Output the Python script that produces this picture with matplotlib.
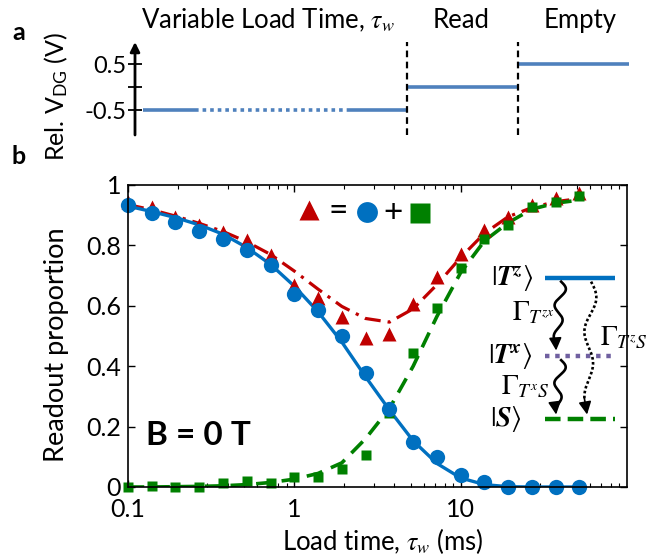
import numpy as np
import matplotlib
matplotlib.use('Agg')
from matplotlib import pyplot as plt

plt.rcParams['font.family'] = ['Lato', 'DejaVu Sans']
plt.rcParams['mathtext.fontset'] = 'stix'

# ---- panel a : pulse sequence on the gate (schematic time axis 0..1)
phase_names = ['Variable Load Time, $\\tau_w$', 'Read', 'Empty']
phase_levels = [-0.5, 0.0, 0.5]
phase_edges = [0.016, 0.544, 0.766, 0.988]
load_dotted = [0.12, 0.428]        # dotted (variable) part of the load stage

# ---- panel b : readout proportions vs load time (ms)
load_time = [0.1, 0.139, 0.193, 0.268, 0.373, 0.518, 0.72, 1.0, 1.39, 1.93,
             2.68, 3.73, 5.18, 7.2, 10.0, 13.9, 19.3, 26.8, 37.3, 51.8]
p_circle = [0.934, 0.907, 0.877, 0.848, 0.821, 0.785, 0.735, 0.639, 0.586, 0.5,
            0.377, 0.258, 0.149, 0.099, 0.04, 0.017, 0.0, 0.0, 0.0, 0.0]
p_square = [0.0, 0.003, 0.0, 0.0, 0.013, 0.02, 0.013, 0.033, 0.033, 0.06,
            0.106, 0.245, 0.444, 0.593, 0.725, 0.821, 0.868, 0.927, 0.944, 0.964]
p_triangle = [0.944, 0.927, 0.894, 0.868, 0.844, 0.818, 0.768, 0.669, 0.626, 0.563,
              0.493, 0.507, 0.606, 0.695, 0.772, 0.851, 0.894, 0.934, 0.957, 0.974]
fit_circle = [0.93, 0.912, 0.892, 0.868, 0.837, 0.793, 0.737, 0.665, 0.58, 0.48,
              0.365, 0.255, 0.153, 0.078, 0.03, 0.008, 0.001, 0.0, 0.0, 0.0]
fit_square = [0.0, 0.0, 0.001, 0.002, 0.004, 0.008, 0.015, 0.026, 0.045, 0.08,
              0.16, 0.26, 0.4, 0.565, 0.71, 0.815, 0.875, 0.92, 0.94, 0.95]
fit_sum = [0.935, 0.918, 0.897, 0.873, 0.846, 0.812, 0.77, 0.715, 0.655, 0.598,
           0.558, 0.546, 0.59, 0.67, 0.76, 0.84, 0.895, 0.925, 0.945, 0.955]

x_ticks = [0.1, 1, 10]
x_ticklabels = ['0.1', '1', '10']
y_ticks = [0, 0.2, 0.4, 0.6, 0.8, 1.0]
y_ticklabels = ['0', '0.2', '0.4', '0.6', '0.8', '1']

c_blue = '#0070c0'
c_green = '#008000'
c_red = '#c00000'
c_purple = '#7060a0'
c_pulse = '#4f81bd'

W, H = 657, 557
fig = plt.figure(figsize=(W / 100, H / 100), dpi=100)


def px(x, y):
    return x / W, 1 - y / H


# ---------------- panel a
ax_a = fig.add_axes([135 / W, 1 - 135 / H, 500 / W, 93 / H])
ax_a.set_xlim(0, 1)
ax_a.set_ylim(-1.04, 0.98)
for s in ['top', 'right', 'bottom', 'left']:
    ax_a.spines[s].set_visible(False)
ax_a.annotate('', xy=(0, 1.0), xytext=(0, 0), xycoords='axes fraction',
              arrowprops=dict(arrowstyle='-|>', color='k', lw=2, mutation_scale=14,
                              shrinkA=0, shrinkB=0))
ax_a.set_xticks([])
ax_a.set_yticks([-0.5, 0, 0.5])
ax_a.set_yticklabels(['-0.5', '', '0.5'])
ax_a.tick_params(axis='y', direction='inout', length=10, width=1.3, labelsize=17, pad=1)
ax_a.set_ylabel('Rel. V$_{\\mathregular{DG}}$ (V)', fontsize=18)
ax_a.yaxis.set_label_coords(-0.13, 0.42)

# load stage: solid - dotted - solid
ax_a.plot([phase_edges[0], load_dotted[0]], [phase_levels[0]] * 2, color=c_pulse,
          lw=2.6, solid_capstyle='butt')
ax_a.plot(load_dotted, [phase_levels[0]] * 2, color=c_pulse, lw=2.6,
          linestyle=(0, (1, 1.1)), dash_capstyle='butt')
ax_a.plot([load_dotted[1], phase_edges[1]], [phase_levels[0]] * 2, color=c_pulse,
          lw=2.6, solid_capstyle='butt')
for i in range(1, 3):
    ax_a.plot(phase_edges[i:i + 2], [phase_levels[i]] * 2, color=c_pulse, lw=2.6,
              solid_capstyle='butt')
for e in phase_edges[1:3]:
    ax_a.axvline(e, color='k', lw=1.6, linestyle=(0, (3, 2)))

name_pos = [0.266, 0.652, 0.89]
for name, xp in zip(phase_names, name_pos):
    ax_a.text(xp, 1.45, name, ha='center', va='center', fontsize=18.5)

fig.text(*px(19, 33), 'a', fontsize=18, fontweight='bold', ha='center', va='center')
fig.text(*px(19, 157), 'b', fontsize=18, fontweight='bold', ha='center', va='center')

# ---------------- panel b
ax = fig.add_axes([128 / W, 1 - 487 / H, 499 / W, 302 / H])
ax.set_xscale('log')
ax.set_xlim(0.1, 100)
ax.set_ylim(0, 1)

ax.plot(load_time, fit_sum, color=c_red, lw=2.3, linestyle=(0, (5, 2.2, 1, 2.2)))
ax.plot(load_time, fit_square, color=c_green, lw=2.6, linestyle=(0, (4.5, 2.6)))
ax.plot(load_time, fit_circle, color=c_blue, lw=2.4)
ax.plot(load_time, p_triangle, '^', color=c_red, ms=9.5, mec='none', clip_on=False)
ax.plot(load_time, p_square, 's', color=c_green, ms=7.5, mec='none', clip_on=False)
ax.plot(load_time, p_circle, 'o', color=c_blue, ms=11, mec='none', clip_on=False)

ax.set_xticks(x_ticks)
ax.set_xticklabels(x_ticklabels)
ax.set_yticks(y_ticks)
ax.set_yticklabels(y_ticklabels)
ax.tick_params(which='both', direction='in', top=True, right=True, labelsize=18)
ax.tick_params(which='major', length=5, width=1)
ax.tick_params(which='minor', length=3, width=0.8)
ax.tick_params(axis='x', pad=8)
ax.tick_params(axis='y', pad=5)
for s in ax.spines.values():
    s.set_linewidth(1.2)
ax.set_xlabel('Load time, $\\tau_w$ (ms)', fontsize=18.5)
ax.xaxis.set_label_coords(0.51, -0.13)
ax.set_ylabel('Readout proportion', fontsize=19.5)
ax.yaxis.set_label_coords(-0.118, 0.47)

# marker legend "triangle = circle + square"
ax.plot(0.363, 0.917, '^', color=c_red, ms=15, mec='none', transform=ax.transAxes)
ax.text(0.421, 0.914, '=', fontsize=24, ha='center', va='center', transform=ax.transAxes)
ax.plot(0.479, 0.911, 'o', color=c_blue, ms=15, mec='none', transform=ax.transAxes)
ax.text(0.531, 0.907, '+', fontsize=24, ha='center', va='center', transform=ax.transAxes)
ax.plot(0.585, 0.907, 's', color=c_green, ms=14, mec='none', transform=ax.transAxes)

ax.text(0.036, 0.172, 'B = 0 T', fontsize=24, fontweight='bold', ha='left',
        va='center', transform=ax.transAxes)

# level diagram
lvl_x = [0.836, 0.976]
ax.plot(lvl_x, [0.692] * 2, color=c_blue, lw=3.2, transform=ax.transAxes,
        solid_capstyle='butt')
ax.plot(lvl_x, [0.434] * 2, color=c_purple, lw=3.2, transform=ax.transAxes,
        linestyle=(0, (1, 1.3)), dash_capstyle='butt')
ax.plot(lvl_x, [0.225] * 2, color=c_green, lw=3.2, transform=ax.transAxes,
        linestyle=(0, (3.5, 1.6)), dash_capstyle='butt')
ax.text(0.812, 0.692, '$|\\mathbfit{T}^{\\mathbfit{z}}\\rangle$', fontsize=20,
        ha='right', va='center', transform=ax.transAxes)
ax.text(0.812, 0.434, '$|\\mathbfit{T}^{\\mathbfit{x}}\\rangle$', fontsize=20,
        ha='right', va='center', transform=ax.transAxes)
ax.text(0.79, 0.225, '$|\\mathbfit{S}\\rangle$', fontsize=20,
        ha='right', va='center', transform=ax.transAxes)


def wavy_arrow(x0, y0, x1, y1, periods, amp, style='-'):
    t = np.linspace(0, 1, 200)
    xs = x0 + (x1 - x0) * t + amp * np.sin(2 * np.pi * periods * t) * (1 - t) ** 0.3
    ys = y0 + (y1 - y0) * t
    end = int(len(t) * 0.88)
    ax.plot(xs[:end], ys[:end], color='k', lw=1.9, linestyle=style,
            transform=ax.transAxes)
    ax.annotate('', xy=(x1, y1), xytext=(xs[end - 1], ys[end - 1]),
                xycoords='axes fraction',
                arrowprops=dict(arrowstyle='-|>', color='k', lw=1.2,
                                mutation_scale=19, shrinkA=0, shrinkB=0))


wavy_arrow(0.868, 0.68, 0.858, 0.452, 2.2, 0.011)
wavy_arrow(0.868, 0.42, 0.858, 0.24, 1.8, 0.011)
wavy_arrow(0.928, 0.68, 0.92, 0.24, 2.0, 0.012, style=(0, (1, 0.9)))

ax.text(0.855, 0.576, '$\\Gamma_{T^{zx}}$', fontsize=20, ha='right', va='center',
        transform=ax.transAxes)
ax.text(0.845, 0.331, '$\\Gamma_{T^{x}S}$', fontsize=20, ha='right', va='center',
        transform=ax.transAxes)
ax.text(0.946, 0.493, '$\\Gamma_{T^{z}S}$', fontsize=20, ha='left', va='center',
        transform=ax.transAxes)

fig.savefig('out.png', dpi=100)
